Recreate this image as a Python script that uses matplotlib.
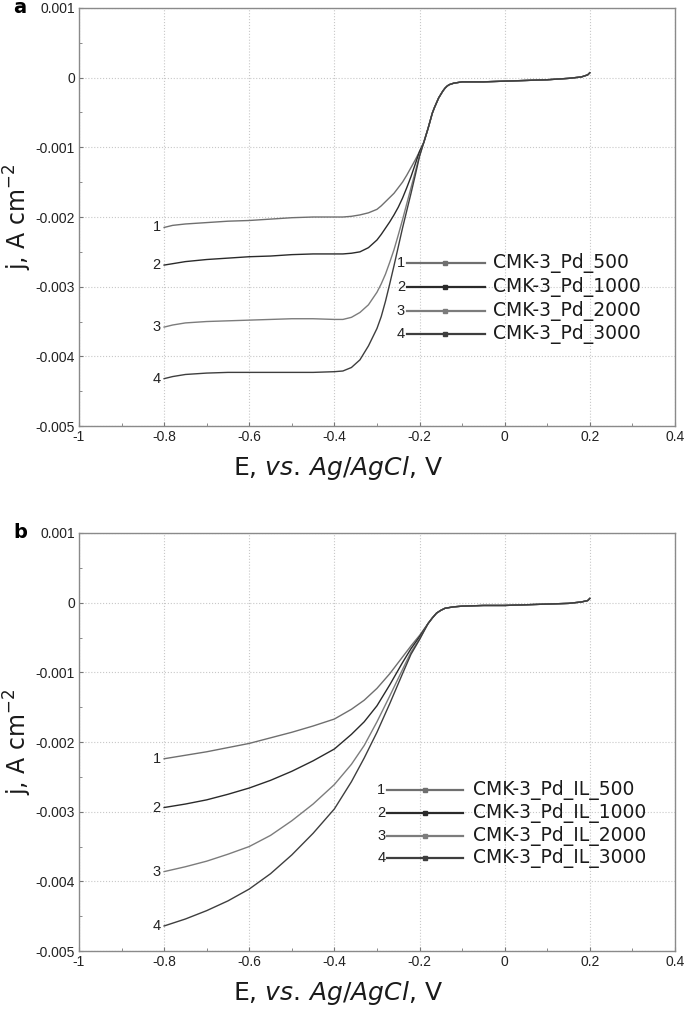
import numpy as np
import matplotlib
matplotlib.use('Agg')
import matplotlib.pyplot as plt
from matplotlib.ticker import MultipleLocator, FuncFormatter

# ---- 数据 ----
# a: CMK-3_Pd, 各曲线在 E_a_low 上的取值, 之后汇合成同一段
E_a_low = [-0.8, -0.78, -0.75, -0.7, -0.65, -0.6, -0.55, -0.5, -0.45, -0.4, -0.38,
           -0.36, -0.34, -0.32, -0.3, -0.29, -0.28, -0.27, -0.26, -0.25, -0.24,
           -0.23, -0.22, -0.21, -0.2, -0.19]
j_a1 = [-0.00215, -0.00212, -0.00210, -0.00208, -0.00206, -0.00205, -0.00203, -0.00201,
        -0.00200, -0.00200, -0.00200, -0.00199, -0.00197, -0.00194, -0.00189, -0.00184,
        -0.00178, -0.00172, -0.00166, -0.00158, -0.00150, -0.00140, -0.00129, -0.00118,
        -0.00106, -0.00093]
j_a2 = [-0.00269, -0.00267, -0.00264, -0.00261, -0.00259, -0.00257, -0.00256, -0.00254,
        -0.00253, -0.00253, -0.00253, -0.00252, -0.00250, -0.00244, -0.00233, -0.00225,
        -0.00216, -0.00207, -0.00197, -0.00186, -0.00173, -0.00158, -0.00142, -0.00124,
        -0.00106, -0.00093]
j_a3 = [-0.00358, -0.00355, -0.00352, -0.00350, -0.00349, -0.00348, -0.00347, -0.00346,
        -0.00346, -0.00347, -0.00347, -0.00344, -0.00337, -0.00326, -0.00308, -0.00296,
        -0.00282, -0.00265, -0.00247, -0.00226, -0.00204, -0.00181, -0.00158, -0.00135,
        -0.00112, -0.00093]
j_a4 = [-0.00432, -0.00429, -0.00426, -0.00424, -0.00423, -0.00423, -0.00423, -0.00423,
        -0.00423, -0.00422, -0.00421, -0.00416, -0.00405, -0.00385, -0.00360, -0.00343,
        -0.00321, -0.00296, -0.00270, -0.00243, -0.00216, -0.00191, -0.00166, -0.00140,
        -0.00113, -0.00093]
E_a_common = [-0.18, -0.175, -0.17, -0.165, -0.16, -0.155, -0.15, -0.145, -0.14, -0.135,
              -0.13, -0.12, -0.11, -0.1, -0.05, 0.0, 0.05, 0.1, 0.15, 0.18, 0.195, 0.2]
j_a_common = [-0.00073, -0.00062, -0.00051, -0.00043, -0.00036, -0.00029, -0.00024,
              -0.00019, -0.00015, -0.00012, -0.00010, -0.00008, -0.00007, -0.00006,
              -0.00006, -0.00005, -0.00004, -0.00003, -0.00001, 0.00001, 0.00004, 0.00007]
labels_a = ['CMK-3_Pd_500', 'CMK-3_Pd_1000', 'CMK-3_Pd_2000', 'CMK-3_Pd_3000']

# b: CMK-3_Pd_IL
E_b_low = [-0.8, -0.75, -0.7, -0.65, -0.6, -0.55, -0.5, -0.45, -0.4, -0.36, -0.33,
           -0.3, -0.27, -0.24, -0.22, -0.2, -0.18]
j_b1 = [-0.00224, -0.00219, -0.00214, -0.00208, -0.00202, -0.00194, -0.00186, -0.00177,
        -0.00167, -0.00153, -0.00140, -0.00123, -0.00102, -0.00078, -0.00062, -0.00047,
        -0.00030]
j_b2 = [-0.00294, -0.00289, -0.00283, -0.00275, -0.00266, -0.00255, -0.00242, -0.00227,
        -0.00210, -0.00189, -0.00171, -0.00148, -0.00118, -0.00086, -0.00066, -0.00049,
        -0.00030]
j_b3 = [-0.00386, -0.00379, -0.00371, -0.00361, -0.00350, -0.00334, -0.00313, -0.00289,
        -0.00261, -0.00232, -0.00205, -0.00171, -0.00134, -0.00096, -0.00071, -0.00052,
        -0.00030]
j_b4 = [-0.00464, -0.00454, -0.00442, -0.00428, -0.00411, -0.00389, -0.00362, -0.00331,
        -0.00296, -0.00257, -0.00223, -0.00186, -0.00145, -0.00102, -0.00074, -0.00053,
        -0.00030]
E_b_common = [-0.17, -0.16, -0.15, -0.14, -0.12, -0.1, -0.05, 0.0, 0.05, 0.1, 0.15,
              0.18, 0.195, 0.2]
j_b_common = [-0.00022, -0.00015, -0.00011, -0.00008, -0.00006, -0.00005, -0.00004,
              -0.00004, -0.00003, -0.00002, -0.00001, 0.00001, 0.00003, 0.00006]
labels_b = ['CMK-3_Pd_IL_500', 'CMK-3_Pd_IL_1000', 'CMK-3_Pd_IL_2000', 'CMK-3_Pd_IL_3000']

curve_ids = ['1', '2', '3', '4']
colors = ['#6f6f6f', '#2a2a2a', '#7c7c7c', '#3e3e3e']

x_ticks = [-1, -0.8, -0.6, -0.4, -0.2, 0, 0.2, 0.4]
y_ticks = [0.001, 0, -0.001, -0.002, -0.003, -0.004, -0.005]


def fmt_num(v, pos=None):
    s = f"{v:.3f}".rstrip('0').rstrip('.')
    if s in ('-0', ''):
        s = '0'
    return s


def draw_panel(ax, E_low, curves, E_common, j_common, labels, tag, leg):
    """画一个面板: 曲线 + 编号 + 手工图例"""
    tick_font = 'Liberation Sans'
    for k, j in enumerate(curves):
        ax.plot(E_low + E_common, j + j_common, color=colors[k], linewidth=1.0, zorder=3)
        ax.text(E_low[0] - 0.008, j[0], curve_ids[k], ha='right', va='center',
                fontsize=10.5, family=tick_font, color='#222222')

    ax.set_xlim(-1, 0.4)
    ax.set_ylim(-0.005, 0.001)
    ax.set_xticks(x_ticks)
    ax.set_yticks(y_ticks)
    ax.xaxis.set_minor_locator(MultipleLocator(0.1))
    ax.yaxis.set_minor_locator(MultipleLocator(0.0005))
    ax.xaxis.set_major_formatter(FuncFormatter(fmt_num))
    ax.yaxis.set_major_formatter(FuncFormatter(fmt_num))
    ax.tick_params(which='both', direction='in', color='#777777', labelsize=10,
                   labelcolor='#222222')
    ax.tick_params(which='major', length=3, pad=3)
    ax.tick_params(which='minor', length=2)
    for lab in ax.get_xticklabels() + ax.get_yticklabels():
        lab.set_family(tick_font)
    ax.grid(True, which='major', color='#c8c8c8', linestyle=':', linewidth=0.8)
    for sp in ax.spines.values():
        sp.set_color('#8a8a8a')
        sp.set_linewidth(1.0)

    ax.set_xlabel(r'E, $\it{vs.}\,\it{Ag/AgCl}$, V', fontsize=18, color='#1a1a1a')
    ax.xaxis.set_label_coords(0.435, -0.066)
    ax.set_ylabel(r'j, A cm$^{-2}$', fontsize=17, color='#1a1a1a')
    ax.yaxis.set_label_coords(-0.075, 0.5)
    ax.text(-0.11, 1.0, tag, transform=ax.transAxes, fontsize=14, fontweight='bold',
            ha='left', va='center', family='DejaVu Sans')

    # 图例
    x0, x1, xm, xt, ys = leg
    for k in range(4):
        ax.plot([x0, x1], [ys[k], ys[k]], transform=ax.transAxes, color=colors[k],
                linewidth=1.6, zorder=4)
        ax.plot([xm], [ys[k]], transform=ax.transAxes, marker='s', markersize=3,
                color=colors[k], zorder=5)
        ax.text(x0 - 0.003, ys[k], curve_ids[k], transform=ax.transAxes, ha='right',
                va='center', fontsize=10.5, family=tick_font, color='#222222')
        ax.text(xt, ys[k], labels[k], transform=ax.transAxes, ha='left', va='center',
                fontsize=13.5, color='#1a1a1a')


if __name__ == "__main__":
    plt.rcParams['font.family'] = ['DejaVu Sans']
    plt.rcParams['mathtext.fontset'] = 'dejavusans'

    fig = plt.figure(figsize=(6.85, 10.11), dpi=100)
    ax_a = fig.add_axes([0.1153, 0.5786, 0.870, 0.4135])
    ax_b = fig.add_axes([0.1153, 0.0593, 0.870, 0.4135])

    draw_panel(ax_a, E_a_low, [j_a1, j_a2, j_a3, j_a4], E_a_common, j_a_common,
               labels_a, 'a', (0.550, 0.681, 0.614, 0.695, [0.390, 0.333, 0.275, 0.220]))
    draw_panel(ax_b, E_b_low, [j_b1, j_b2, j_b3, j_b4], E_b_common, j_b_common,
               labels_b, 'b', (0.517, 0.644, 0.581, 0.661, [0.385, 0.330, 0.275, 0.222]))

    fig.savefig('out.png', dpi=100)
